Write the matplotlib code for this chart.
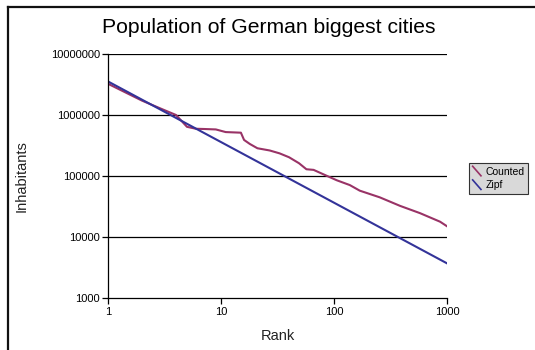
import numpy as np
import matplotlib
matplotlib.use("Agg")
import matplotlib.pyplot as plt
from matplotlib.lines import Line2D
from matplotlib.legend_handler import HandlerBase
from matplotlib.ticker import FixedLocator, FixedFormatter, NullLocator

# values
counted_rank = [1, 2, 3, 4, 5, 6, 7, 9, 11, 15, 16, 18, 21, 27, 33, 40, 49, 57, 66,
                83, 106, 138, 169, 254, 384, 577, 869, 1000]
counted_pop = [3250000, 1720000, 1250000, 1000000, 640000, 595000, 590000, 580000,
               525000, 513000, 390000, 335000, 285000, 262000, 235000, 203000, 162000,
               129000, 126000, 104000, 85000, 71000, 57500, 44700, 32400, 24600,
               17800, 15000]
zipf_rank = [1, 10, 100, 1000]
zipf_pop = [3550000, 360000, 36500, 3700]

x_ticks = [1, 10, 100, 1000]
y_ticks = [1000, 10000, 100000, 1000000, 10000000]

plt.rcParams['font.family'] = ['Liberation Sans', 'DejaVu Sans']


class DiagHandler(HandlerBase):
    # legend glyph drawn as a short "\" stroke, like the old spreadsheet legend
    def create_artists(self, legend, orig_handle, xdescent, ydescent,
                       width, height, fontsize, trans):
        ln = Line2D([-xdescent, -xdescent + width],
                    [-ydescent + height * 1.1, -ydescent - height * 0.1],
                    color=orig_handle.get_color(), lw=1.2, transform=trans)
        return [ln]


fig = plt.figure(figsize=(5.35, 3.5), dpi=100)
ax = fig.add_axes([108 / 535, 1 - 298 / 350, 339 / 535, 244 / 350])

l1, = ax.plot(counted_rank, counted_pop, color='#993366', lw=1.5, label='Counted')
l2, = ax.plot(zipf_rank, zipf_pop, color='#333399', lw=1.5, label='Zipf')

ax.set_xscale('log')
ax.set_yscale('log')
ax.set_xlim(1, 1000)
ax.set_ylim(1000, 10000000)

ax.xaxis.set_major_locator(FixedLocator(x_ticks))
ax.xaxis.set_major_formatter(FixedFormatter([str(v) for v in x_ticks]))
ax.yaxis.set_major_locator(FixedLocator(y_ticks))
ax.yaxis.set_major_formatter(FixedFormatter([str(v) for v in y_ticks]))
ax.xaxis.set_minor_locator(NullLocator())
ax.yaxis.set_minor_locator(NullLocator())

for v in y_ticks[1:]:
    ax.axhline(v, color='black', lw=0.9, zorder=1)

ax.spines['top'].set_visible(False)
ax.spines['right'].set_visible(False)
ax.spines['left'].set_linewidth(0.9)
ax.spines['bottom'].set_linewidth(0.9)
ax.tick_params(axis='both', direction='out', length=4.3, width=0.9,
               labelsize=8, pad=1.5)
ax.tick_params(axis='x', pad=2.5)

ax.set_xlabel('Rank', fontsize=10.5, color='#222222', labelpad=8)
ax.set_ylabel('Inhabitants', fontsize=10.5, color='#222222', labelpad=16)
ax.set_title('Population of German biggest cities', fontsize=15.2,
             x=0.475, pad=15)

leg = ax.legend(handles=[l1, l2], handler_map={Line2D: DiagHandler()},
                loc='upper left', bbox_to_anchor=(469 / 535, 1 - 163 / 350),
                bbox_transform=fig.transFigure, borderaxespad=0,
                fontsize=7.5, frameon=True, fancybox=False, framealpha=1,
                facecolor='#d9d9d9', edgecolor='#333333', handlelength=0.8,
                handleheight=0.8, handletextpad=0.4, labelspacing=0.35,
                borderpad=0.35)
leg.get_frame().set_linewidth(0.8)

# chart border on left and top
fig.add_artist(Line2D([7.5 / 535, 7.5 / 535], [0, 1 - 7 / 350], color='#111111', lw=1.6))
fig.add_artist(Line2D([7.5 / 535, 1], [1 - 7 / 350, 1 - 7 / 350], color='#111111', lw=1.6))

fig.savefig('out.png', dpi=100)
